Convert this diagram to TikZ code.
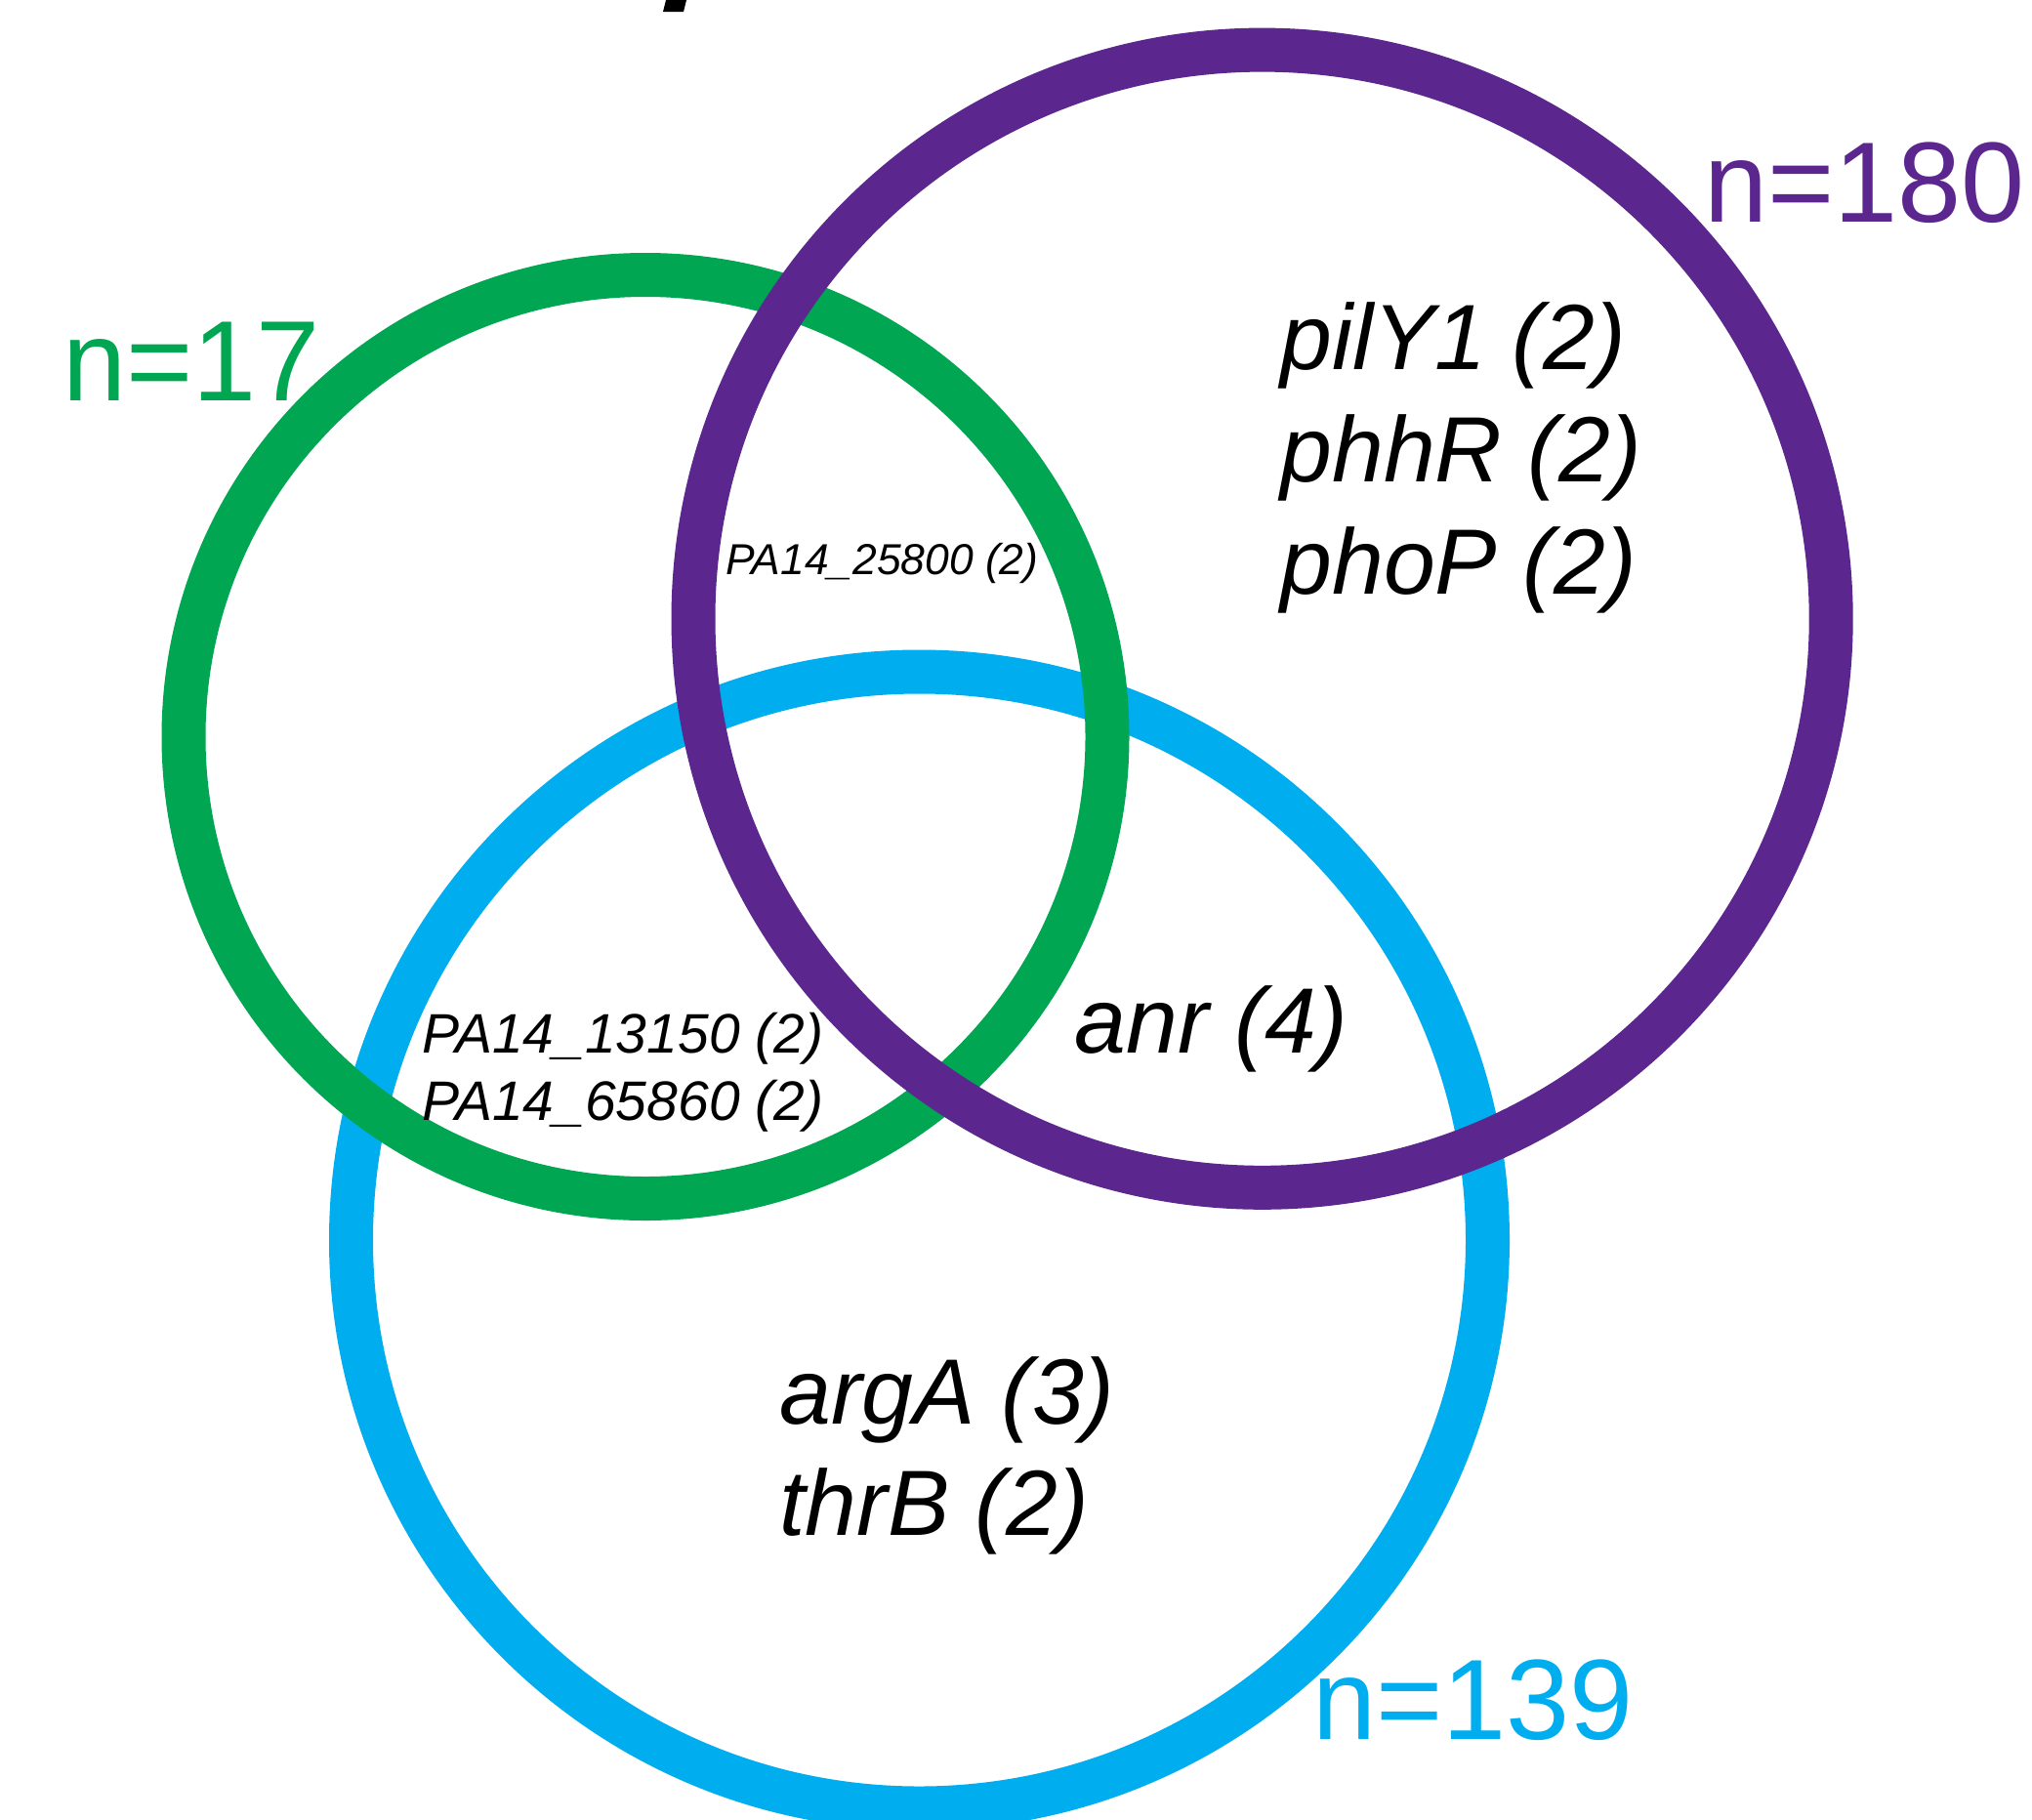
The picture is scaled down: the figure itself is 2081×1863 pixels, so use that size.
\documentclass[tikz,border=0pt]{standalone}
\usepackage{fontspec}
\setmainfont{Liberation Sans}
\definecolor{vgreen}{RGB}{0,166,81}
\definecolor{vpurple}{RGB}{92,38,143}
\definecolor{vblue}{RGB}{0,174,239}
\tikzset{
  ring/.style={line width=22.5pt},
  countlbl/.style={anchor=base west, inner sep=0pt, font=\fontsize{58.5}{60}\selectfont},
  genebig/.style={anchor=base west, inner sep=0pt, font=\fontsize{47.5}{57.5}\selectfont\itshape},
  genemid/.style={anchor=base west, inner sep=0pt, font=\fontsize{28.5}{34.5}\selectfont\itshape},
  genesmall/.style={anchor=base west, inner sep=0pt, font=\fontsize{22.2}{26}\selectfont\itshape},
}
\begin{document}
\begin{tikzpicture}[x=0.5pt,y=-0.5pt]
\useasboundingbox (0,0) rectangle (2081,1863);
\fill[white] (0,0) rectangle (2081,1863);
% circles (drawing order: blue, green, purple)
\coordinate (cb) at (941.5,1270);
\coordinate (cg) at (661,754.5);
\coordinate (cp) at (1292.6,633.7);
\draw[ring, vblue] (cb) circle[radius=291pt];
\draw[ring, vgreen] (cg) circle[radius=236.5pt];
\draw[ring, vpurple] (cp) circle[radius=291.3pt];
% cut-off fragment at top
\fill[black] (682,0) -- (703,0) -- (700,12) -- (679,12) -- cycle;
% counts
\node[countlbl, text=vgreen] (n17) at (64,410) {n=17};
\node[countlbl, text=vpurple] (n180) at (1745,227) {n=180};
\node[countlbl, text=vblue] (n139) at (1344,1781) {n=139};
% gene labels
\node[genebig] (g1) at (1311,378) {pilY1 (2)};
\node[genebig] (g2) at (1311,493) {phhR (2)};
\node[genebig] (g3) at (1311,608) {phoP (2)};
\node[genebig] (g4) at (1100,1078) {anr (4)};
\node[genebig] (g5) at (798,1458) {argA (3)};
\node[genebig] (g6) at (798,1572) {thrB (2)};
\node[genesmall] (g7) at (743,588) {PA14\_25800 (2)};
\node[genemid] (g8) at (432,1078) {PA14\_13150 (2)};
\node[genemid] (g9) at (432,1147) {PA14\_65860 (2)};
\end{tikzpicture}
\end{document}
